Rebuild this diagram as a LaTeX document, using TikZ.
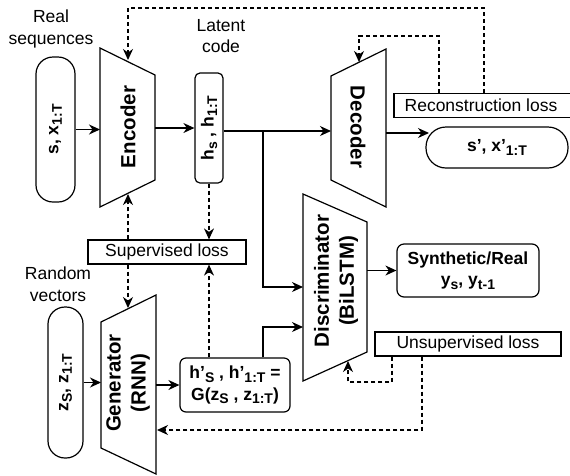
\documentclass[tikz,border=0pt]{standalone}
\usepackage{fontspec}
\setmainfont{Liberation Sans}
\usetikzlibrary{arrows.meta}
\newcommand{\lsb}[1]{\raisebox{-3.5pt}{\fontsize{14}{14}\selectfont #1}}
\tikzset{
  ln/.style={line width=1.2pt},
  arr/.style={ln, -{Stealth[length=11pt,width=10pt,inset=3.5pt]}},
  darr/.style={arr, dash pattern=on 4pt off 3pt},
  trap/.style={ln, fill=white},
  txt/.style={font=\fontsize{17.5}{21.5}\selectfont, align=center, inner sep=0pt},
  btxt/.style={font=\fontsize{17.5}{21.5}\selectfont\bfseries, align=center, inner sep=0pt},
  big/.style={font=\fontsize{20.5}{25}\selectfont\bfseries, align=center, inner sep=0pt},
  pill/.style={draw, ln, rounded corners=17pt, inner sep=0pt, minimum width=#1},
  lossbox/.style={draw, ln, inner sep=0pt, font=\fontsize{17.5}{21.5}\selectfont, minimum height=24pt},
  rbox/.style={draw, ln, rounded corners=5pt, inner sep=0pt, align=center}
}
\begin{document}
\begin{tikzpicture}[x=1pt,y=-1pt]
\useasboundingbox (0,0) rectangle (570,475);

% labels
\node[txt] (lreal) at (51,29) {Real\\sequences};
\node[txt] (llat) at (221,36) {Latent\\code};
\node[txt] (lrand) at (58,284) {Random\\vectors};

% input pills
\node[pill=39pt, minimum height=145pt] (xin) at (55.5,129.5) {};
\node[btxt, rotate=90] (xint) at (xin.center) {s, x\lsb{1:T}};
\node[pill=35pt, minimum height=151pt] (zin) at (65.5,382.5) {};
\node[btxt, rotate=90] (zint) at (zin.center) {z\lsb{S}, z\lsb{1:T}};

% encoder
\coordinate (e1) at (100,48); \coordinate (e2) at (155,75);
\coordinate (e3) at (155,180); \coordinate (e4) at (100,207);
\draw[trap] (e1)--(e2)--(e3)--(e4)--cycle;
\node[big, rotate=90] (enc) at (128,127) {Encoder};

% decoder
\coordinate (d1) at (331,76); \coordinate (d2) at (386,49);
\coordinate (d3) at (386,207); \coordinate (d4) at (331,180);
\draw[trap] (d1)--(d2)--(d3)--(d4)--cycle;
\node[big, rotate=-90] (dec) at (358,127) {Decoder};

% generator
\coordinate (g1) at (101,322); \coordinate (g2) at (156,295);
\coordinate (g3) at (156,474); \coordinate (g4) at (101,448);
\draw[trap] (g1)--(g2)--(g3)--(g4)--cycle;
\node[big, rotate=90] (gen) at (128,383) {Generator\\(RNN)};

% discriminator
\coordinate (di1) at (303,194); \coordinate (di2) at (367,222);
\coordinate (di3) at (367,352); \coordinate (di4) at (303,381);
\draw[trap] (di1)--(di2)--(di3)--(di4)--cycle;
\node[big, rotate=90] (dis) at (336,281) {Discriminator\\(BiLSTM)};

% latent box
\node[rbox, minimum width=28pt, minimum height=110pt] (hs) at (209,128) {};
\node[btxt, rotate=90] (hst) at (hs.center) {h\lsb{s} , h\lsb{1:T}};

% h' box
\node[rbox, btxt, draw, ln, rounded corners=6pt, minimum width=110pt, minimum height=54pt] (hp) at (235,385)
  {h'\lsb{S} , h'\lsb{1:T} =\\G(z\lsb{S} , z\lsb{1:T})};

% output pill
\node[pill=142pt, minimum height=41pt, rounded corners=20pt, btxt, draw, ln] (xout) at (497,147.5) {s', x'\lsb{1:T}};

% synthetic/real
\node[rbox, btxt, draw, ln, rounded corners=7pt, minimum width=142pt, minimum height=53pt] (syn) at (468,270.5)
  {Synthetic/Real\\y\lsb{s}, y\lsb{t-1}};

% loss boxes
\node[lossbox, minimum width=178pt] (rl) at (483,105.5) {\hspace*{-4pt}Reconstruction loss};
\node[lossbox, minimum width=158pt] (sl) at (167,252) {Supervised loss};
\node[lossbox, minimum width=186pt] (ul) at (468,344) {Unsupervised loss};

% solid connectors
\draw[arr] (xin.east) -- (xin.east -| e1);
\draw[arr] (hs.west -| e2) -- (hs.west);
\coordinate (br) at (263,131);
\coordinate (dinA) at (303,287);
\coordinate (dinB) at (303,327);
\draw[arr] (hs.east |- br) -- (d1 |- br);
\draw[arr] (br) |- (dinA);
\draw[arr] (br |- hp.north) |- (dinB);
\coordinate (dout) at (386,133);
\draw[arr] (dout) -- (429,133);
\draw[arr] (zin.east) -- (zin.east -| g1);
\draw[arr] (hp.west -| g2) -- (hp.west);
\draw[arr] (syn.west -| di2) -- (syn.west);

% dashed connectors
\coordinate (rlA) at (439,36);
\coordinate (rlB) at (484,8);
\draw[darr] (rl.north -| rlA) -- (rlA) -| (359,62);
\draw[darr] (rl.north -| rlB) -- (rlB) -| (128,60);
\coordinate (slx) at (128,252);
\draw[darr] (sl.north -| slx) -- (128,194);
\draw[darr] (sl.south -| slx) -- (128,308);
\draw[darr] (hs.south) -- (hs.south |- sl.north);
\draw[darr] (hs.south |- hp.north) -- (hs.south |- sl.south);
\coordinate (ulA) at (392,382);
\coordinate (ulB) at (422,430);
\draw[darr] (ul.south -| ulA) -- (ulA) -| (348,361);
\draw[darr] (ul.south -| ulB) -- (ulB) -- (157,430);
\end{tikzpicture}
\end{document}
